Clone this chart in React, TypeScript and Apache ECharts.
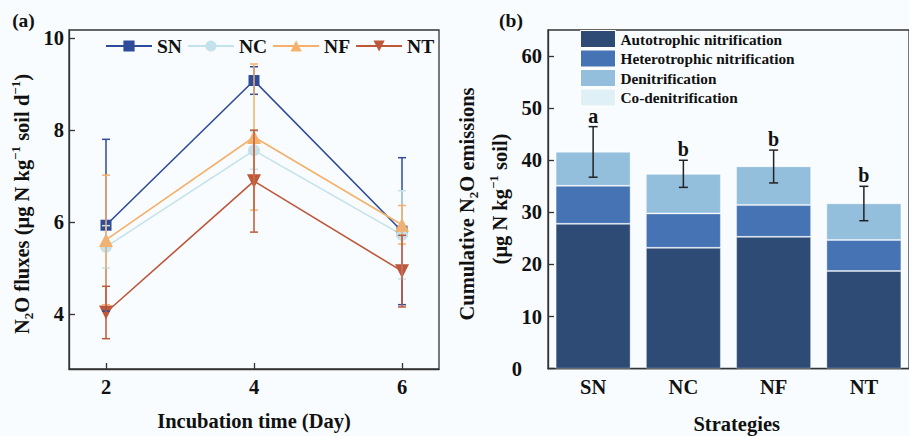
import React, { useEffect, useRef } from "react";
import * as echarts from "echarts";

// ---------- Panel (a) data ----------
const days = [2, 4, 6];
const xTicks = [2, 4, 6];
const yTicksA = [4, 6, 8, 10];
const snMean = [5.93, 9.08, 5.8];
const snSd = [1.87, 0.3, 1.6];
const ncMean = [5.46, 7.56, 5.72];
const ncSd = [0.46, 0.41, 0.96];
const nfMean = [5.61, 7.85, 5.94];
const nfSd = [1.41, 1.59, 0.42];
const ntMean = [4.03, 6.89, 4.93];
const ntSd = [0.57, 1.11, 0.78];

// ---------- Panel (b) data ----------
const strategies = ["SN", "NC", "NF", "NT"];
const autotrophic = [27.8, 23.2, 25.3, 18.75];
const heterotrophic = [7.3, 6.6, 6.1, 5.95];
const denitrification = [6.55, 7.6, 7.45, 7.05];
const coDenitrification = [0, 0, 0, 0];
const totalMean = [41.6, 37.4, 38.8, 31.7];
const totalSd = [4.85, 2.6, 3.15, 3.3];
const letters = ["a", "b", "b", "b"];
const yTicksB = [0, 10, 20, 30, 40, 50, 60];

const FONT = "'Liberation Serif', 'Times New Roman', serif";
const TXT = "#111";
const TICK_FS = 20.5;
const TITLE_FS = 20.5;

const colors = {
  SN: "#2F4C9B",
  NC: "#C4E2EB",
  NF: "#F5B16B",
  NT: "#BF573A",
  auto: "#2D4B74",
  het: "#4573B3",
  den: "#93BEDC",
  co: "#DFF0F7",
};

function errSeries(name: string, mean: number[], sd: number[], color: string) {
  return {
    type: "custom",
    name: name + "_err",
    xAxisIndex: 0,
    yAxisIndex: 0,
    z: 5,
    silent: true,
    data: days.map((d, i) => [d, mean[i] - sd[i], mean[i] + sd[i]]),
    renderItem: (params: any, api: any) => {
      const x = api.value(0);
      const p1 = api.coord([x, api.value(2)]);
      const p2 = api.coord([x, api.value(1)]);
      const w = 4;
      const st = { stroke: color, lineWidth: 1.5 };
      return {
        type: "group",
        children: [
          { type: "line", shape: { x1: p1[0], y1: p1[1], x2: p2[0], y2: p2[1] }, style: st },
          { type: "line", shape: { x1: p1[0] - w, y1: p1[1], x2: p1[0] + w, y2: p1[1] }, style: st },
          { type: "line", shape: { x1: p2[0] - w, y1: p2[1], x2: p2[0] + w, y2: p2[1] }, style: st },
        ],
      };
    },
  };
}

function lineSeries(name: string, mean: number[], color: string, symbol: string, size: number, rot = 0) {
  return {
    type: "line",
    name,
    xAxisIndex: 0,
    yAxisIndex: 0,
    data: days.map((d, i) => [d, mean[i]]),
    symbol,
    symbolSize: size,
    symbolRotate: rot,
    showAllSymbol: true,
    lineStyle: { color, width: 1.6 },
    itemStyle: { color },
    z: 3,
  };
}

function barSeries(name: string, data: number[], color: string) {
  return {
    type: "bar",
    name,
    xAxisIndex: 1,
    yAxisIndex: 1,
    stack: "total",
    barWidth: 75,
    data,
    itemStyle: { color, borderColor: "rgba(255,255,255,0.35)", borderWidth: 1 },
  };
}

const boldText = (size: number) => ({
  fontFamily: FONT,
  fontWeight: "bold" as const,
  fontSize: size,
  color: TXT,
});

function richStyles(size: number) {
  const small = Math.round(size * 0.65);
  return {
    n: { fontFamily: FONT, fontWeight: "bold", fontSize: size, fill: TXT, lineHeight: size + 6, verticalAlign: "middle" },
    s: { fontFamily: FONT, fontWeight: "bold", fontSize: small, fill: TXT, lineHeight: small, verticalAlign: "bottom" },
    p: { fontFamily: FONT, fontWeight: "bold", fontSize: small, fill: TXT, lineHeight: small, verticalAlign: "top" },
  };
}

function titleText(x: number, y: number, text: string, size: number, rotate = false) {
  return {
    type: "text",
    x,
    y,
    rotation: rotate ? Math.PI / 2 : 0,
    style: {
      text,
      rich: richStyles(size),
      font: `bold ${size}px ${FONT}`,
      fill: TXT,
      align: "center",
      verticalAlign: "middle",
    },
  };
}

export default function App() {
  const ref = useRef<HTMLDivElement>(null);
  useEffect(() => {
    if (!ref.current) return;
    const chart = echarts.init(ref.current, undefined, { renderer: "svg" });
    const axisLine = { show: true, lineStyle: { color: "#333", width: 1.3 } };
    const option: any = {
      animation: false,
      backgroundColor: "#F8FCFE",
      grid: [
        { left: 69, top: 30, width: 370, height: 339, show: true, borderColor: "#333", borderWidth: 1.3, backgroundColor: "transparent" },
        { left: 548, top: 30, width: 368, height: 338.7, show: true, borderColor: "#333", borderWidth: 1.3, backgroundColor: "transparent" },
      ],
      xAxis: [
        {
          type: "value",
          gridIndex: 0,
          min: 1.5,
          max: 6.5,
          axisLine,
          axisTick: { show: true, inside: true, length: 6, customValues: xTicks, lineStyle: { color: "#333", width: 1.3 } },
          axisLabel: { ...boldText(TICK_FS), margin: 7, customValues: xTicks },
          splitLine: { show: false },
        },
        {
          type: "category",
          gridIndex: 1,
          data: strategies,
          axisLine,
          axisTick: { show: false },
          axisLabel: { ...boldText(TICK_FS), margin: 8 },
          splitLine: { show: false },
        },
      ],
      yAxis: [
        {
          type: "value",
          gridIndex: 0,
          min: 2.8,
          max: 10.18,
          axisLine,
          axisTick: { show: true, inside: true, length: 6, customValues: yTicksA, lineStyle: { color: "#333", width: 1.3 } },
          axisLabel: { ...boldText(TICK_FS), margin: 5, customValues: yTicksA },
          splitLine: { show: false },
        },
        {
          type: "value",
          gridIndex: 1,
          min: 0,
          max: 65,
          axisLine,
          axisTick: { show: true, inside: true, length: 6, customValues: yTicksB, lineStyle: { color: "#333", width: 1.3 } },
          axisLabel: {
            ...boldText(TICK_FS),
            margin: 6,
            customValues: yTicksB,
            formatter: (v: number) => (v === 0 ? "{z|0}" : String(v)),
            rich: { z: { ...boldText(TICK_FS), padding: [0, 20, 0, 0] } },
          },
          splitLine: { show: false },
        },
      ],
      legend: [
        {
          data: ["SN", "NC", "NF", "NT"],
          orient: "horizontal",
          left: 105,
          top: 36,
          itemWidth: 46,
          itemHeight: 14,
          itemGap: 5,
          padding: 0,
          textStyle: { ...boldText(19.5) },
        },
        {
          data: ["Autotrophic nitrification", "Heterotrophic nitrification", "Denitrification", "Co-denitrification"],
          orient: "vertical",
          left: 580,
          top: 30,
          itemWidth: 35,
          itemHeight: 17,
          itemGap: 1.5,
          padding: 0,
          icon: "rect",
          itemStyle: { borderColor: "#ffffff", borderWidth: 1 },
          textStyle: { ...boldText(15.3), lineHeight: 17 },
        },
      ],
      graphic: [
        titleText(23.5, 20.5, "(a)", 19.5),
        titleText(511, 20.5, "(b)", 19.5),
        titleText(254, 420.5, "Incubation time (Day)", TITLE_FS),
        titleText(22, 204, "{n|N}{s|2}{n|O fluxes (μg N kg}{p|−1}{n| soil d}{p|−1}{n|)}", TITLE_FS, true),
        titleText(466.7, 204, "{n|Cumulative N}{s|2}{n|O emissions}", TITLE_FS, true),
        titleText(500, 199, "{n|(μg N kg}{p|−1}{n| soil)}", TITLE_FS, true),
        titleText(736.7, 424, "Strategies", TITLE_FS),
      ],
      series: [
        lineSeries("SN", snMean, colors.SN, "rect", 11),
        lineSeries("NC", ncMean, colors.NC, "circle", 12),
        lineSeries("NF", nfMean, colors.NF, "triangle", 14),
        lineSeries("NT", ntMean, colors.NT, "triangle", 14, 180),
        errSeries("SN", snMean, snSd, colors.SN),
        errSeries("NC", ncMean, ncSd, colors.NC),
        errSeries("NF", nfMean, nfSd, colors.NF),
        errSeries("NT", ntMean, ntSd, colors.NT),
        barSeries("Autotrophic nitrification", autotrophic, colors.auto),
        barSeries("Heterotrophic nitrification", heterotrophic, colors.het),
        barSeries("Denitrification", denitrification, colors.den),
        barSeries("Co-denitrification", coDenitrification, colors.co),
        {
          type: "custom",
          name: "total_err",
          xAxisIndex: 1,
          yAxisIndex: 1,
          z: 5,
          silent: true,
          data: strategies.map((s, i) => [i, totalMean[i] - totalSd[i], totalMean[i] + totalSd[i]]),
          renderItem: (params: any, api: any) => {
            const i = api.value(0);
            const p1 = api.coord([i, api.value(2)]);
            const p2 = api.coord([i, api.value(1)]);
            const w = 4.5;
            const st = { stroke: "#222", lineWidth: 1.5 };
            return {
              type: "group",
              children: [
                { type: "line", shape: { x1: p1[0], y1: p1[1], x2: p2[0], y2: p2[1] }, style: st },
                { type: "line", shape: { x1: p1[0] - w, y1: p1[1], x2: p1[0] + w, y2: p1[1] }, style: st },
                { type: "line", shape: { x1: p2[0] - w, y1: p2[1], x2: p2[0] + w, y2: p2[1] }, style: st },
                {
                  type: "text",
                  x: p1[0],
                  y: p1[1] - 11,
                  style: {
                    text: letters[params.dataIndex],
                    font: `bold 20px ${FONT}`,
                    fill: TXT,
                    align: "center",
                    verticalAlign: "middle",
                  },
                },
              ],
            };
          },
        },
      ],
    };
    chart.setOption(option);
    return () => chart.dispose();
  }, []);
  return (
    <div
      ref={ref}
      style={{ position: "fixed", left: 0, top: 0, width: 909, height: 436 }}
    />
  );
}
